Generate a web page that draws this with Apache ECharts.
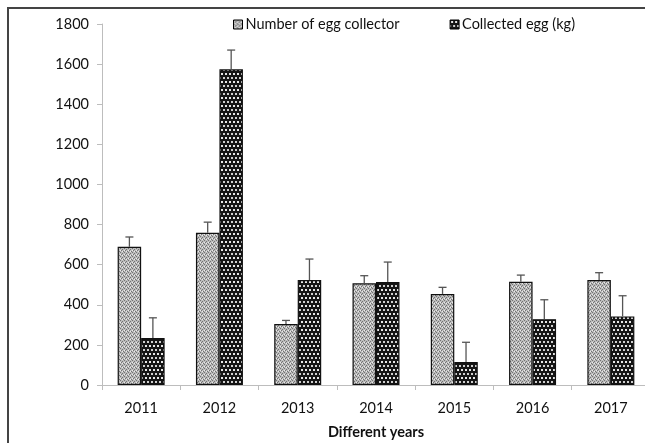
<!DOCTYPE html>
<html>
<head>
<meta charset="utf-8">
<script src="https://cdn.jsdelivr.net/npm/echarts@6/dist/echarts.min.js"></script>
<style>
html,body{margin:0;padding:0;background:#fff;}
#chart{width:645px;height:443px;}
</style>
</head>
<body>
<div id="chart"></div>
<script>
var years = ['2011','2012','2013','2014','2015','2016','2017'];
var collectors = [689, 759, 304, 507, 454, 515, 523];
var collectorsErr = [49, 53, 18, 38, 33, 33, 37];
var eggs = [234, 1574, 523, 513, 115, 328, 342];
var eggsErr = [101, 96, 105, 100, 98, 97, 103];
var yTicks = [0, 200, 400, 600, 800, 1000, 1200, 1400, 1600, 1800];

function makePattern(kind) {
  var c = document.createElement('canvas');
  var ctx = c.getContext('2d');
  if (kind === 1) {
    c.width = 4; c.height = 4;
    ctx.fillStyle = '#bcbcbc'; ctx.fillRect(0,0,4,4);
    ctx.fillStyle = '#737373';
    ctx.fillRect(0,0,1,1); ctx.fillRect(2,1,1,1); ctx.fillRect(1,2,1,1); ctx.fillRect(3,3,1,1);
    ctx.fillStyle = '#ebebeb';
    ctx.fillRect(2,3,1,1); ctx.fillRect(0,2,1,1);
  } else {
    c.width = 8; c.height = 8;
    ctx.fillStyle = '#151515'; ctx.fillRect(0,0,8,8);
    ctx.fillStyle = '#e6e6e6';
    ctx.fillRect(1,1,2,2); ctx.fillRect(5,1,2,2);
    ctx.fillStyle = '#cfcfcf';
    ctx.fillRect(3,5,2,2); ctx.fillRect(7,5,1,2); ctx.fillRect(0,5,1,2);
  }
  return c;
}
var pat1 = {image: makePattern(1), repeat: 'repeat'};
var pat2 = {image: makePattern(2), repeat: 'repeat'};

var chart = echarts.init(document.getElementById('chart'));
var FONT = 'Lato';

function errSeries(values, errs, seriesIdx) {
  return {
    type: 'custom',
    name: 'err' + seriesIdx,
    silent: true,
    z: 5,
    data: values.map(function (v, i) { return [i, v, v + errs[i]]; }),
    renderItem: function (params, api) {
      var idx = api.value(0);
      var base = api.coord([idx, api.value(1)]);
      var top = api.coord([idx, api.value(2)]);
      var bw = api.size([1, 0])[0];
      var barW = bw * 0.3;
      var x = base[0] + (seriesIdx === 0 ? -barW / 2 : barW / 2);
      var style = {stroke: '#555', lineWidth: 1.3};
      return {
        type: 'group',
        children: [
          {type: 'line', shape: {x1: x, y1: base[1], x2: x, y2: top[1]}, style: style},
          {type: 'line', shape: {x1: x - 4, y1: top[1], x2: x + 4, y2: top[1]}, style: style}
        ]
      };
    }
  };
}

chart.setOption({
  animation: false,
  textStyle: {fontFamily: FONT},
  graphic: [{
    type: 'rect', silent: true, z: 100,
    shape: {x: 8, y: 8, width: 800, height: 600},
    style: {fill: 'none', stroke: '#444', lineWidth: 2}
  }],
  legend: {
    left: 228, top: 12,
    itemWidth: 9, itemHeight: 9, itemGap: 50,
    icon: 'rect',
    textStyle: {fontFamily: FONT, fontSize: 14.5, color: '#111', padding: [0,0,0,-2]},
    data: [
      {name: 'Number of egg collector', itemStyle: {color: pat1, borderColor: '#000', borderWidth: 1}},
      {name: 'Collected egg (kg)', itemStyle: {color: pat2, borderColor: '#000', borderWidth: 1}}
    ]
  },
  grid: {left: 102, top: 24, width: 548, height: 361, containLabel: false, outerBoundsMode: 'none'},
  xAxis: {
    type: 'category',
    data: years,
    name: 'Different years',
    nameLocation: 'middle',
    nameGap: 40,
    nameTextStyle: {fontFamily: FONT, fontSize: 14.5, fontWeight: 'bold', color: '#111'},
    axisLine: {lineStyle: {color: '#bdbdbd', width: 1}},
    axisTick: {show: true, length: 5, lineStyle: {color: '#bdbdbd'}},
    axisLabel: {fontFamily: FONT, fontSize: 14.5, color: '#111', margin: 16},
    splitLine: {show: false}
  },
  yAxis: {
    type: 'value',
    min: yTicks[0], max: yTicks[yTicks.length - 1], interval: 200,
    axisLine: {show: true, lineStyle: {color: '#bdbdbd', width: 1}},
    axisTick: {show: true, length: 5, lineStyle: {color: '#bdbdbd'}},
    axisLabel: {fontFamily: FONT, fontSize: 14.5, color: '#111', margin: 13,
      formatter: function (v) { return String(v); }},
    splitLine: {show: false}
  },
  series: [
    {
      name: 'Number of egg collector', type: 'bar',
      data: collectors, barWidth: '30%', barGap: '0%',
      itemStyle: {color: pat1, borderColor: '#111', borderWidth: 1.2}
    },
    {
      name: 'Collected egg (kg)', type: 'bar',
      data: eggs, barWidth: '30%', barGap: '0%',
      itemStyle: {color: pat2, borderColor: '#111', borderWidth: 1.2}
    },
    errSeries(collectors, collectorsErr, 0),
    errSeries(eggs, eggsErr, 1)
  ]
});
</script>
</body>
</html>
